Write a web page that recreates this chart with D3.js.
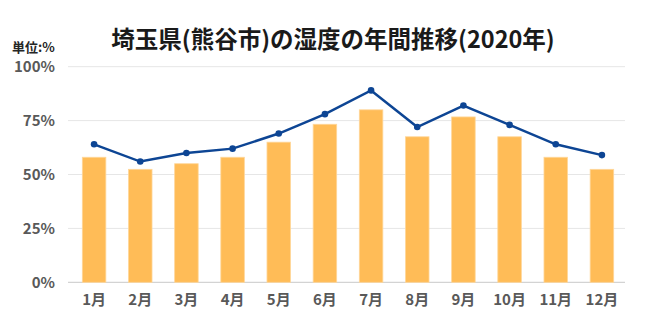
<!DOCTYPE html>
<html><head><meta charset="utf-8">
<script src="https://cdn.jsdelivr.net/npm/d3@7"></script>
<style>body{margin:0;background:#fff}svg{display:block}text{font-family:"Noto Sans CJK JP","Noto Sans",sans-serif;font-weight:bold}</style>
</head><body>
<script>
const categories = ["1月","2月","3月","4月","5月","6月","7月","8月","9月","10月","11月","12月"];
const barValues = [58,52.4,55,58,65,73.3,80,67.5,76.7,67.5,58,52.4];
const lineValues = [64,56,60,62,69,78,89,72,82,73,64,59];
const yTicks = [0,25,50,75,100];
const title = "埼玉県(熊谷市)の湿度の年間推移(2020年)";
const unitLabel = "単位:%";

const W=650,H=326;
const svg=d3.select("body").append("svg").attr("width",W).attr("height",H);
const x=d3.scaleBand().domain(categories).range([71,625]).paddingInner(0.49).paddingOuter(0.245);
const y=d3.scaleLinear().domain([0,100]).range([282.3,66.7]);

svg.append("g").selectAll("line").data(yTicks).join("line")
 .attr("x1",68).attr("x2",625).attr("y1",d=>y(d)).attr("y2",d=>y(d))
 .attr("stroke",d=>d===0?"#c8c8c8":"#e6e6e6").attr("stroke-width",1);

svg.append("g").selectAll("text").data(yTicks).join("text")
 .attr("x",55).attr("y",d=>y(d)+5.5).attr("text-anchor","end")
 .attr("font-size",15).attr("fill","#595959").text(d=>d+"%");

svg.append("g").selectAll("rect").data(barValues).join("rect")
 .attr("x",(d,i)=>x(categories[i])).attr("width",x.bandwidth())
 .attr("y",d=>y(d)).attr("height",d=>y(0)-y(d))
 .attr("fill","#FFBC57").attr("stroke","#FFD79A").attr("stroke-width",0.8);

const cx=(i)=>x(categories[i])+x.bandwidth()/2;
svg.append("path").datum(lineValues)
 .attr("d",d3.line().x((d,i)=>cx(i)).y(d=>y(d)))
 .attr("fill","none").attr("stroke","#0D4594").attr("stroke-width",2.5);
svg.append("g").selectAll("circle").data(lineValues).join("circle")
 .attr("cx",(d,i)=>cx(i)).attr("cy",d=>y(d)).attr("r",3.3).attr("fill","#0D4594");

svg.append("g").selectAll("text").data(categories).join("text")
 .attr("x",d=>x(d)+x.bandwidth()/2).attr("y",305).attr("text-anchor","middle")
 .attr("font-size",15).attr("fill","#595959").text(d=>d);

svg.append("text").attr("x",333).attr("y",48).attr("text-anchor","middle")
 .attr("font-size",23.5).attr("fill","#1a1a1a").text(title);
svg.append("text").attr("x",12).attr("y",52).attr("font-size",13).attr("fill","#262626").text(unitLabel);
</script>
</body></html>
